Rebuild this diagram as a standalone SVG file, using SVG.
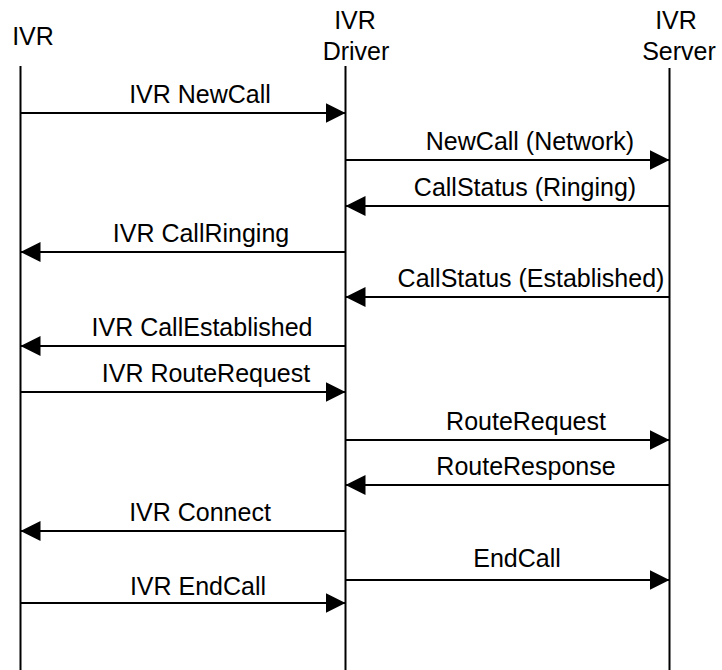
<svg xmlns="http://www.w3.org/2000/svg" width="722" height="670" viewBox="0 0 722 670">
<defs>
<marker id="ah" markerUnits="userSpaceOnUse" viewBox="0 0 20 20" refX="20" refY="10" markerWidth="20" markerHeight="20" orient="auto">
<path d="M0,0 L20,10 L0,20 z" fill="#000"/>
</marker>
<style>
text{font-family:"Liberation Sans",Arial,sans-serif;font-size:25px;fill:#000;text-anchor:middle}
.life{stroke:#000;stroke-width:2;fill:none}
.msg{stroke:#000;stroke-width:2;fill:none;marker-end:url(#ah)}
</style>
</defs>
<rect width="722" height="670" fill="#fff"/>
<g id="ivr">
<text x="33" y="45">IVR</text>
<line class="life" x1="20.5" y1="66" x2="20.5" y2="670"/>
</g>
<g id="driver">
<text x="355" y="29">IVR</text>
<text x="356" y="60">Driver</text>
<line class="life" x1="345.5" y1="66" x2="345.5" y2="670"/>
</g>
<g id="server">
<text x="676" y="29">IVR</text>
<text x="679" y="60">Server</text>
<line class="life" x1="669.5" y1="68" x2="669.5" y2="670"/>
</g>
<g id="connectors">
<line class="msg" x1="20.5" y1="113" x2="345.5" y2="113"/>
<text x="200" y="103">IVR NewCall</text>
<line class="msg" x1="345.5" y1="160" x2="669.5" y2="160"/>
<text x="530" y="150">NewCall (Network)</text>
<line class="msg" x1="669.5" y1="206" x2="345.5" y2="206"/>
<text x="525" y="196">CallStatus (Ringing)</text>
<line class="msg" x1="345.5" y1="252" x2="20.5" y2="252"/>
<text x="201" y="242">IVR CallRinging</text>
<line class="msg" x1="669.5" y1="297" x2="345.5" y2="297"/>
<text x="531" y="287">CallStatus (Established)</text>
<line class="msg" x1="345.5" y1="346" x2="20.5" y2="346"/>
<text x="202" y="336">IVR CallEstablished</text>
<line class="msg" x1="20.5" y1="392" x2="345.5" y2="392"/>
<text x="206" y="382">IVR RouteRequest</text>
<line class="msg" x1="345.5" y1="440" x2="669.5" y2="440"/>
<text x="526" y="430">RouteRequest</text>
<line class="msg" x1="669.5" y1="485" x2="345.5" y2="485"/>
<text x="526" y="475">RouteResponse</text>
<line class="msg" x1="345.5" y1="531" x2="20.5" y2="531"/>
<text x="200" y="521">IVR Connect</text>
<line class="msg" x1="345.5" y1="580" x2="669.5" y2="580"/>
<text x="517" y="567">EndCall</text>
<line class="msg" x1="20.5" y1="603" x2="345.5" y2="603"/>
<text x="198" y="595">IVR EndCall</text>
</g>
</svg>
